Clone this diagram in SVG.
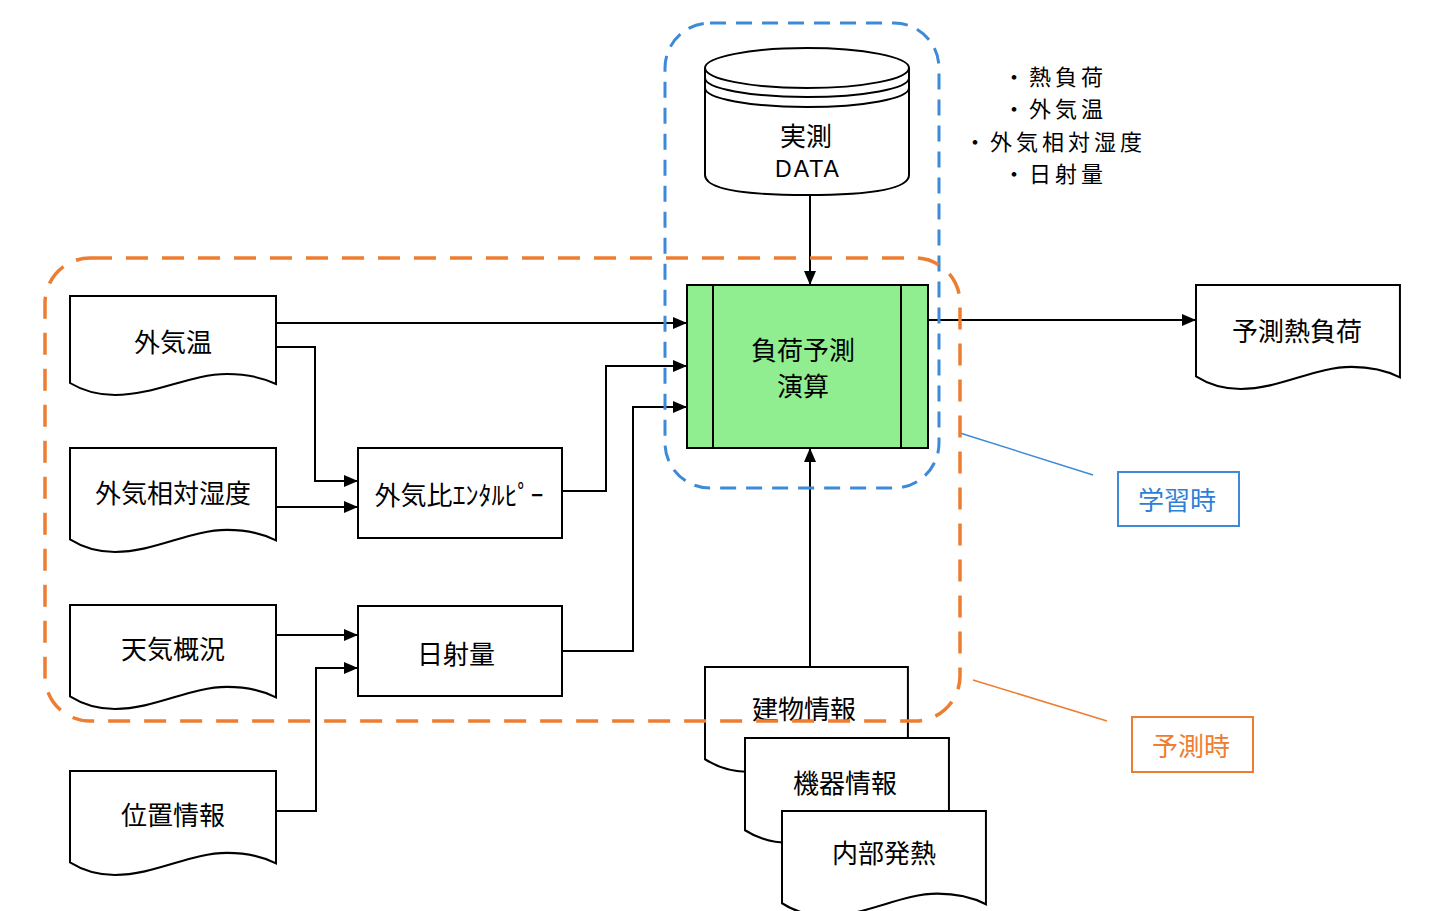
<svg xmlns="http://www.w3.org/2000/svg" width="1434" height="911" viewBox="0 0 1434 911">
<style>
.shape{fill:#fff;stroke:#000;stroke-width:2}
.t{font-family:"Noto Sans CJK JP","Liberation Sans",sans-serif;font-size:26px;fill:#000;text-anchor:middle;dominant-baseline:central}
.li{font-size:22px;letter-spacing:4px}
.conn{fill:none;stroke:#000;stroke-width:2}
</style>
<defs>
<path id="doc" d="M0,0 H206 V88 Q185,78 157,78 C120,78 85,99 45,99 Q20,99 0,87 Z"/>
<marker id="ah" markerUnits="userSpaceOnUse" markerWidth="14" markerHeight="12" refX="14" refY="6" orient="auto">
<path d="M0,0 L14,6 L0,12 Z" fill="#000"/>
</marker>
</defs>
<rect width="1434" height="911" fill="#fff"/>

<g id="n-gaikion"><use href="#doc" class="shape" transform="translate(70,296)"/><text class="t" x="173" y="340">外気温</text></g>
<g id="n-shitsudo"><use href="#doc" class="shape" transform="translate(70,448) scale(1,1.05)"/><text class="t" x="173" y="491">外気相対湿度</text></g>
<g id="n-tenki"><use href="#doc" class="shape" transform="translate(70,605) scale(1,1.05)"/><text class="t" x="173" y="647">天気概況</text></g>
<g id="n-ichi"><use href="#doc" class="shape" transform="translate(70,771) scale(1,1.05)"/><text class="t" x="173" y="813">位置情報</text></g>

<g id="n-enthalpy"><rect class="shape" x="358" y="448" width="204" height="90"/><text class="t" x="459" y="493">外気比ｴﾝﾀﾙﾋﾟｰ</text></g>
<g id="n-nissha"><rect class="shape" x="358" y="606" width="204" height="90"/><text class="t" x="456" y="652">日射量</text></g>

<g id="n-main"><rect x="687" y="285" width="241" height="163" fill="#90EE90" stroke="#000" stroke-width="2"/><line x1="713" y1="285" x2="713" y2="448" stroke="#000" stroke-width="2"/><line x1="901" y1="285" x2="901" y2="448" stroke="#000" stroke-width="2"/><text class="t" x="803" y="348">負荷予測</text><text class="t" x="803" y="384">演算</text></g>

<g id="n-data">
<path class="shape" d="M705,68 A102,20 0 0 1 909,68 V175 Q909,195 807,195 Q705,195 705,175 Z"/>
<path fill="none" stroke="#000" stroke-width="2" d="M705,68 A102,20 0 0 0 909,68"/>
<path fill="none" stroke="#000" stroke-width="2" d="M705,78 A102,19 0 0 0 909,78"/>
<path fill="none" stroke="#000" stroke-width="2" d="M705,88 A102,19 0 0 0 909,88"/>
<text class="t" x="806" y="134">実測</text>
<text class="t" x="808" y="169" style="font-family:'Liberation Sans',sans-serif;font-size:23px;letter-spacing:2px">DATA</text>
</g>

<g id="n-list">
<text class="t li" x="1055" y="75">・熱負荷</text>
<text class="t li" x="1055" y="107">・外気温</text>
<text class="t li" x="1055" y="140">・外気相対湿度</text>
<text class="t li" x="1055" y="172">・日射量</text>
</g>

<g id="n-out"><use href="#doc" class="shape" transform="translate(1196,285) scale(0.99,1.05)"/><text class="t" x="1297" y="329">予測熱負荷</text></g>

<g id="n-tatemono"><use href="#doc" class="shape" transform="translate(705,667) scale(0.985,1.06)"/><text class="t" x="804" y="707">建物情報</text></g>
<g id="n-kiki"><use href="#doc" class="shape" transform="translate(745,738) scale(0.99,1.06)"/><text class="t" x="845" y="781">機器情報</text></g>
<g id="n-naibu"><use href="#doc" class="shape" transform="translate(782,811) scale(0.99,1.06)"/><text class="t" x="884" y="851">内部発熱</text></g>

<g id="connectors">
<path class="conn" d="M277,323 H687" marker-end="url(#ah)"/>
<path class="conn" d="M277,347 H315 V481 H358" marker-end="url(#ah)"/>
<path class="conn" d="M277,507 H358" marker-end="url(#ah)"/>
<path class="conn" d="M562,491 H606 V366 H687" marker-end="url(#ah)"/>
<path class="conn" d="M562,651 H633 V407 H687" marker-end="url(#ah)"/>
<path class="conn" d="M277,635 H358" marker-end="url(#ah)"/>
<path class="conn" d="M277,811 H316 V668 H358" marker-end="url(#ah)"/>
<path class="conn" d="M810,195 V285" marker-end="url(#ah)"/>
<path class="conn" d="M810,667 V448" marker-end="url(#ah)"/>
<path class="conn" d="M928,320 H1196" marker-end="url(#ah)"/>
</g>

<g id="g-learn">
<rect x="665" y="23" width="274" height="465" rx="45" ry="45" fill="none" stroke="#3d8ad8" stroke-width="3" stroke-dasharray="16 10"/>
<line x1="960" y1="433" x2="1093" y2="475" stroke="#3d8ad8" stroke-width="1.5"/>
<rect x="1118" y="472" width="121" height="54" fill="#fff" stroke="#3d8ad8" stroke-width="2"/>
<text class="t" x="1177" y="498" style="fill:#2f7fd6">学習時</text>
</g>

<g id="g-predict">
<rect x="45" y="258" width="915" height="463" rx="45" ry="45" fill="none" stroke="#ed7d31" stroke-width="3.5" stroke-dasharray="22 14"/>
<line x1="973" y1="680" x2="1107" y2="721" stroke="#ed7d31" stroke-width="1.5"/>
<rect x="1132" y="717" width="121" height="55" fill="#fff" stroke="#ed7d31" stroke-width="2"/>
<text class="t" x="1191" y="744" style="fill:#ed7d31">予測時</text>
</g>
</svg>
